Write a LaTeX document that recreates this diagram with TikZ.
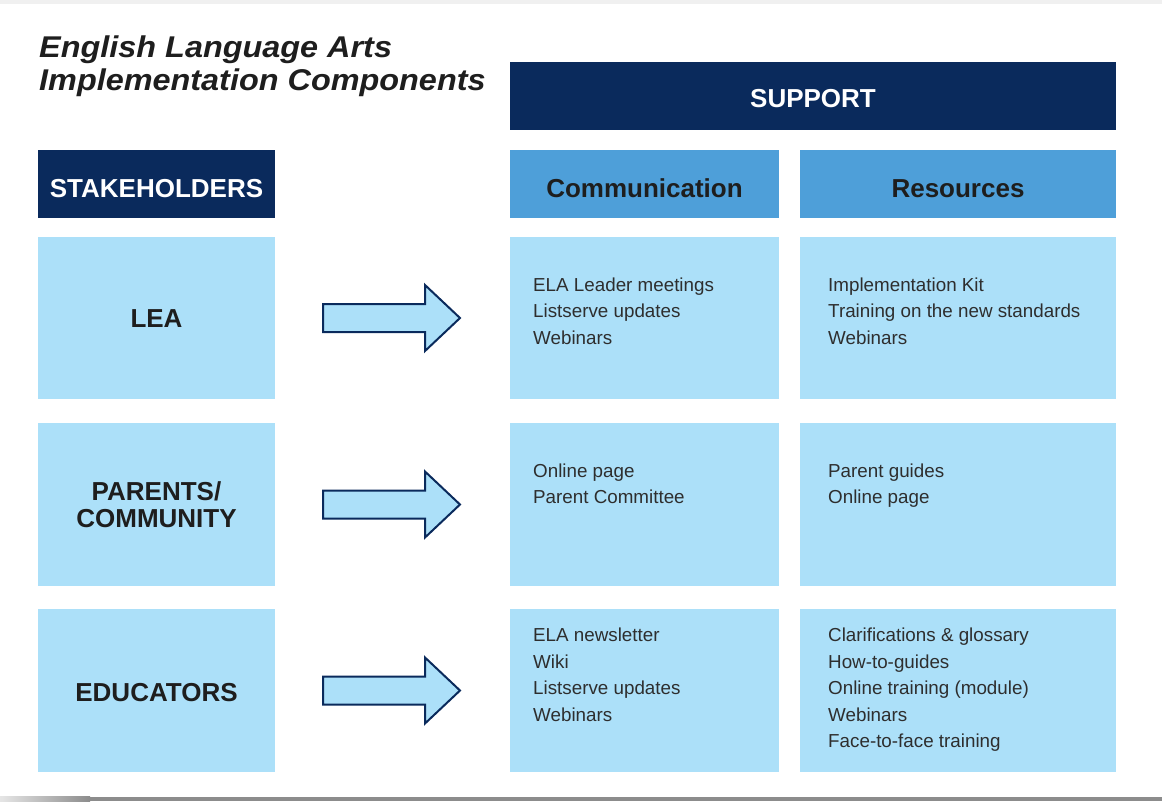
\documentclass[tikz,border=0pt]{standalone}
\usepackage{fontspec}
\setmainfont{Liberation Sans}
\newfontfamily\titlefamily[FakeStretch=1.08]{Liberation Sans}
\usetikzlibrary{calc}

\definecolor{navy}{HTML}{0A2A5C}
\definecolor{midblue}{HTML}{4E9FD9}
\definecolor{paleblue}{HTML}{ACE0F9}
\definecolor{inkdark}{HTML}{1E1E1E}
\definecolor{inkbody}{HTML}{2E2E2E}

\tikzset{
  box/.style={rectangle, inner sep=0pt, outer sep=0pt, anchor=center},
  navybox/.style={box, fill=navy, text=white, font=\fontsize{26}{30}\selectfont\bfseries},
  headbox/.style={box, fill=midblue, text=inkdark, font=\fontsize{26}{30}\selectfont\bfseries},
  cellbox/.style={box, fill=paleblue},
  rowlabel/.style={box, fill=paleblue, text=inkdark, align=center,
    font=\fontsize{26}{27}\selectfont\bfseries},
  bodytext/.style={anchor=north west, inner sep=0pt, align=left, text=inkbody,
    font=\fontsize{18.8}{26.5}\selectfont},
  arrowstyle/.style={draw=navy, fill=paleblue, line width=2pt, line join=miter},
  pics/bigarrow/.style={code={
    \draw[arrowstyle] (-68.5,-14) -- (33.5,-14) -- (33.5,-33) -- (68.5,0)
      -- (33.5,33) -- (33.5,14) -- (-68.5,14) -- cycle;
  }}
}

\begin{document}
\begin{tikzpicture}[x=1pt, y=-1pt]
  \useasboundingbox (0,0) rectangle (1162,801);
  \fill[white] (0,0) rectangle (1162,801);

  % page edges
  \fill[black!6] (0,0) rectangle (1162,3.5);
  \fill[black!45] (90,796.5) rectangle (1162,801);
  \shade[left color=black!10, right color=black!45] (0,796.5) rectangle (90,801);

  % title
  \node[anchor=north west, inner sep=0pt, align=left, text=inkdark,
        font=\titlefamily\fontsize{30}{33}\selectfont\bfseries\itshape]
    (title) at (39,33.9) {\strut English Language Arts\\Implementation Components};

  % column headers
  \node[navybox, minimum width=606pt, minimum height=68pt,
        text height=22pt, text depth=0pt] (support) at (813,96) {SUPPORT};
  \node[navybox, minimum width=237pt, minimum height=68pt,
        text height=26pt, text depth=0pt] (stake) at (156.5,184) {STAKEHOLDERS};
  \node[headbox, minimum width=269pt, minimum height=68pt,
        text height=26pt, text depth=0pt] (comm) at (644.5,184) {Communication};
  \node[headbox, minimum width=316pt, minimum height=68pt,
        text height=26pt, text depth=0pt] (res) at (958,184) {Resources};

  % row 1: LEA
  \node[rowlabel, minimum width=237pt, minimum height=162pt,
        text height=19pt, text depth=0pt] (lea) at (156.5,318) {LEA};
  \node[cellbox, minimum width=269pt, minimum height=162pt] (leacomm) at (644.5,318) {};
  \node[cellbox, minimum width=316pt, minimum height=162pt] (leares) at (958,318) {};

  % row 2: parents / community
  \node[rowlabel, minimum width=237pt, minimum height=163pt]
    (parents) at (156.5,504.5) {PARENTS/\\COMMUNITY};
  \node[cellbox, minimum width=269pt, minimum height=163pt] (parcomm) at (644.5,504.5) {};
  \node[cellbox, minimum width=316pt, minimum height=163pt] (parres) at (958,504.5) {};

  % row 3: educators
  \node[rowlabel, minimum width=237pt, minimum height=163pt,
        text height=21pt, text depth=0pt] (edu) at (156.5,690.5) {EDUCATORS};
  \node[cellbox, minimum width=269pt, minimum height=163pt] (educomm) at (644.5,690.5) {};
  \node[cellbox, minimum width=316pt, minimum height=163pt] (edures) at (958,690.5) {};

  % cell contents
  \node[bodytext] (t11) at ($(leacomm.north west)+(23,35.3)$)
    {\strut ELA Leader meetings\\Listserve updates\\Webinars};
  \node[bodytext] (t12) at ($(leares.north west)+(28,35.3)$)
    {\strut Implementation Kit\\Training on the new standards\\Webinars};
  \node[bodytext] (t21) at ($(parcomm.north west)+(23,35.3)$)
    {\strut Online page\\Parent Committee};
  \node[bodytext] (t22) at ($(parres.north west)+(28,35.3)$)
    {\strut Parent guides\\Online page};
  \node[bodytext] (t31) at ($(educomm.north west)+(23,13.8)$)
    {\strut ELA newsletter\\Wiki\\Listserve updates\\Webinars};
  \node[bodytext] (t32) at ($(edures.north west)+(28,13.8)$)
    {\strut Clarifications \& glossary\\How-to-guides\\Online training (module)\\Webinars\\Face-to-face training};

  % block arrows between stakeholders and support
  \pic at ($(lea.east)!0.5!(leacomm.west)+(-1,0)$) {bigarrow};
  \pic at ($(parents.east)!0.5!(parcomm.west)+(-1,0)$) {bigarrow};
  \pic at ($(edu.east)!0.5!(educomm.west)+(-1,0)$) {bigarrow};
\end{tikzpicture}
\end{document}
